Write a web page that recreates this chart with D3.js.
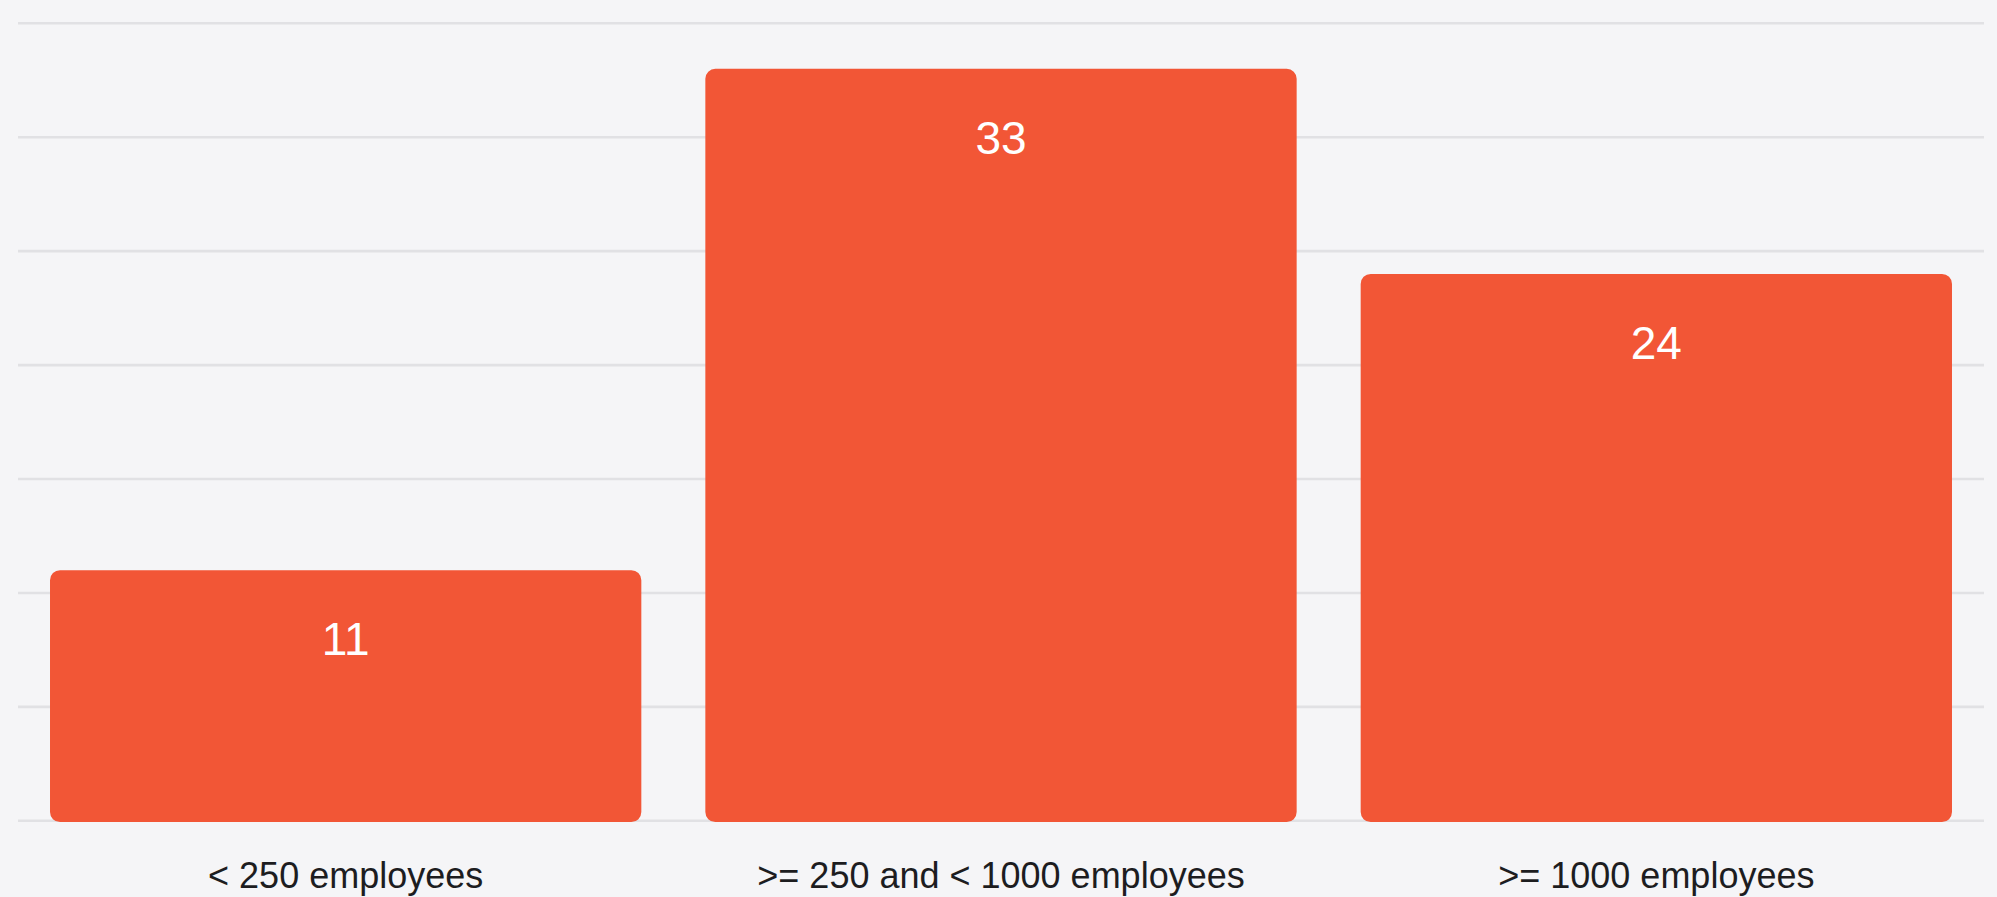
<!DOCTYPE html>
<html>
<head>
<meta charset="utf-8">
<script src="https://cdn.jsdelivr.net/npm/d3@7/dist/d3.min.js"></script>
<style>
  html, body { margin: 0; padding: 0; background: #f5f5f7; }
  svg { display: block; }
</style>
</head>
<body>
<svg id="chart" width="1997" height="897"></svg>
<script>
// Company size buckets and counts
const categories = ["< 250 employees", ">= 250 and < 1000 employees", ">= 1000 employees"];
const counts = [11, 33, 24];
const gridTicks = [0, 5, 10, 15, 20, 25, 30, 35];

(function () {
  const width = 1997, height = 897;
  const plotLeft = 18, plotRight = 1984, plotTop = 23.3, plotBottom = 820.8;
  const barColor = "#f25636";

  const svg = d3.select("#chart");
  svg.append("rect").attr("width", width).attr("height", height).attr("fill", "#f5f5f7");

  const x = d3.scaleBand()
    .domain(categories)
    .range([plotLeft, plotRight])
    .paddingInner(0.0977)
    .paddingOuter(0.0977 / 2);

  const y = d3.scaleLinear().domain([0, 35]).range([plotBottom, plotTop]);

  // Horizontal gridlines
  svg.append("g")
    .selectAll("line")
    .data(gridTicks)
    .join("line")
    .attr("x1", plotLeft).attr("x2", plotRight)
    .attr("y1", d => y(d)).attr("y2", d => y(d))
    .attr("stroke", "#e1e1e4")
    .attr("stroke-width", 2.6);

  // Bars with rounded corners
  const rad = 10;
  const barBottom = y(0) + 1.3;
  svg.append("g")
    .selectAll("path")
    .data(categories)
    .join("path")
    .attr("fill", barColor)
    .attr("d", (c, i) => {
      const x0 = x(c), x1 = x(c) + x.bandwidth();
      const y0 = y(counts[i]), y1 = barBottom;
      const p = d3.path();
      p.moveTo(x0 + rad, y0);
      p.lineTo(x1 - rad, y0);
      p.arcTo(x1, y0, x1, y0 + rad, rad);
      p.lineTo(x1, y1 - rad);
      p.arcTo(x1, y1, x1 - rad, y1, rad);
      p.lineTo(x0 + rad, y1);
      p.arcTo(x0, y1, x0, y1 - rad, rad);
      p.lineTo(x0, y0 + rad);
      p.arcTo(x0, y0, x0 + rad, y0, rad);
      p.closePath();
      return p.toString();
    });

  // Value labels inside the bars
  svg.append("g")
    .selectAll("text")
    .data(categories)
    .join("text")
    .attr("x", c => x(c) + x.bandwidth() / 2)
    .attr("y", (c, i) => y(counts[i]) + 85)
    .attr("text-anchor", "middle")
    .attr("fill", "#ffffff")
    .attr("font-family", "'Liberation Sans', Arial, Helvetica, sans-serif")
    .attr("font-size", 46)
    .text((c, i) => counts[i]);

  // Category axis labels
  const xAxis = d3.axisBottom(x).tickSize(0).tickPadding(0);
  const gx = svg.append("g")
    .attr("transform", "translate(0, 888)")
    .call(xAxis);
  gx.select(".domain").remove();
  gx.selectAll("text")
    .attr("dy", 0)
    .attr("y", 0)
    .attr("fill", "#1d1d1f")
    .attr("font-family", "'Liberation Sans', Arial, Helvetica, sans-serif")
    .attr("font-size", 36);
})();
</script>
</body>
</html>
